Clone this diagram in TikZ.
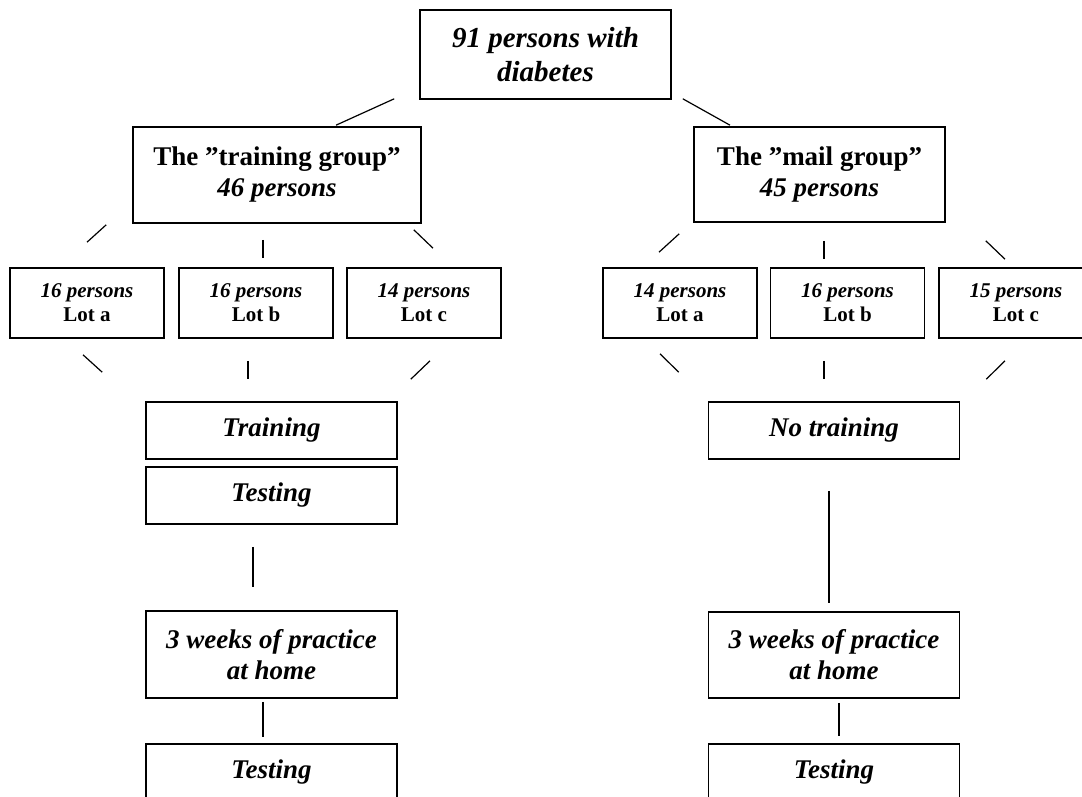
\documentclass[tikz,border=0pt]{standalone}
\usepackage{fontspec}
\setmainfont{Liberation Serif}

\begin{document}
\begin{tikzpicture}[x=1pt,y=-1pt,align=center,
    box/.style={draw,line width=1.6pt,inner sep=0pt,minimum width=251pt},
    groupbox/.style={box,minimum height=96pt,font=\fontsize{27}{31}\selectfont\bfseries},
    lotbox/.style={box,minimum width=154pt,minimum height=70pt,font=\fontsize{21}{24}\selectfont\bfseries},
    stagebox/.style={box,minimum height=57pt,font=\fontsize{27}{31}\selectfont\bfseries\itshape},
    link/.style={line width=1.2pt}]
		\useasboundingbox (0,0) rectangle (1082,797);

		\node[box,minimum height=89pt,font=\fontsize{29}{34}\selectfont\bfseries\itshape] (all) at (545.5,54.5) {91 persons with\\diabetes};
		\node[groupbox,minimum width=288pt] (traingrp) at (277,175) {The ”training group”\\\textit{46 persons}};
		\node[groupbox,minimum height=95pt] (mailgrp) at (819.5,174.5) {The ”mail group”\\\textit{45 persons}};

		\node[lotbox] (ta) at (87,303)   {\textit{16 persons}\\Lot a};
		\node[lotbox] (tb) at (256,303)  {\textit{16 persons}\\Lot b};
		\node[lotbox] (tc) at (424,303)  {\textit{14 persons}\\Lot c};
		\node[lotbox] (ma) at (680,303)  {\textit{14 persons}\\Lot a};
		\node[lotbox] (mb) at (847.5,303) {\textit{16 persons}\\Lot b};
		\node[lotbox] (mc) at (1016,303) {\textit{15 persons}\\Lot c};

		\node[stagebox] (train) at (271.5,430.5) {Training};
		\node[stagebox] (test1) at (271.5,495.5) {Testing};
		\node[stagebox,minimum height=87pt] (practice1) at (271.5,654.5) {3 weeks of practice\\at home};
		\node[stagebox] (test2) at (271.5,772.5) {Testing};

		\node[stagebox] (notrain) at (834,430.5) {No training};
		\node[stagebox,minimum height=86pt] (practice2) at (834,655) {3 weeks of practice\\at home};
		\node[stagebox] (test3) at (834,772.5) {Testing};

		\path[link] ([shift={(-25,-1)}]all.south west) edge ([shift={(59,-1)}]traingrp.north)
		            ([shift={(11,-1)}]all.south east) edge ([shift={(-89.5,-1)}]mailgrp.north)
		            ([shift={(-26,1)}]traingrp.south west) edge ([shift={(0,-25)}]ta.north)
		            ([shift={(-14,16)}]traingrp.south) edge ([shift={(7,-9)}]tb.north)
		            ([shift={(-8,6)}]traingrp.south east) edge ([shift={(9,-19)}]tc.north)
		            ([shift={(-4,16)}]ta.south) edge ([shift={(-43,-29)}]train.north west)
		            ([shift={(-8,22)}]tb.south) edge ([shift={(-23.5,-22)}]train.north)
		            ([shift={(6,22)}]tc.south) edge ([shift={(13,-22)}]train.north east)
		            ([shift={(-14,11)}]mailgrp.south west) edge ([shift={(-21,-15)}]ma.north)
		            ([shift={(4.5,18)}]mailgrp.south) edge ([shift={(-23.5,-8)}]mb.north)
		            ([shift={(40,18)}]mailgrp.south east) edge ([shift={(-11,-8)}]mc.north)
		            ([shift={(-20,15)}]ma.south) edge ([shift={(-29,-29)}]notrain.north west)
		            ([shift={(-23.5,22)}]mb.south) edge ([shift={(-10,-22)}]notrain.north)
		            ([shift={(-11,22)}]mc.south) edge ([shift={(26,-22)}]notrain.north east)
		            ([shift={(-18.5,22)}]test1.south) edge ([shift={(-18.5,-23)}]practice1.north)
		            ([shift={(-8.5,3)}]practice1.south) edge ([shift={(-8.5,-6)}]test2.north)
		            ([shift={(-5,31)}]notrain.south) edge ([shift={(-5,-8)}]practice2.north)
		            ([shift={(5,4)}]practice2.south) edge ([shift={(5,-7)}]test3.north);
	\end{tikzpicture}
\end{document}
